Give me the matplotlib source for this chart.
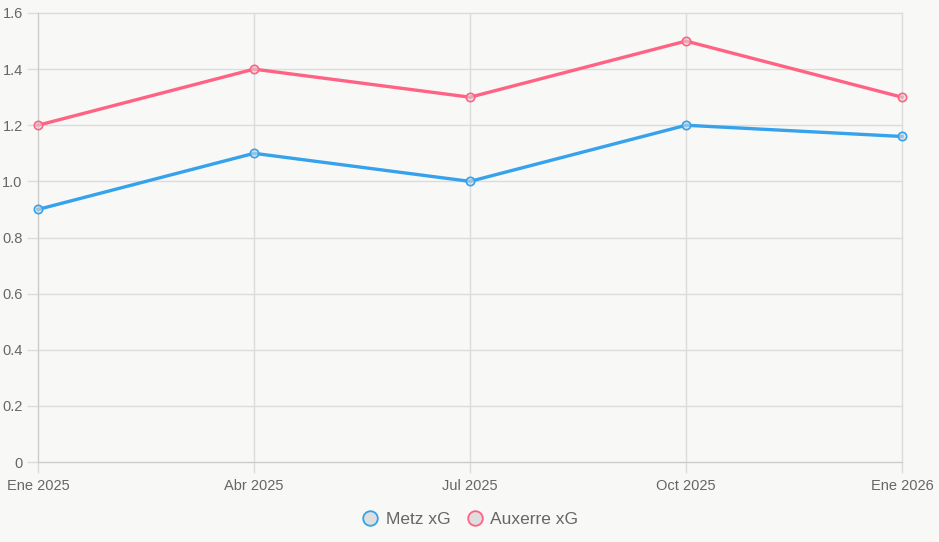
import matplotlib
matplotlib.use("Agg")
import matplotlib.pyplot as plt
from matplotlib.lines import Line2D

plt.rcParams['font.family'] = ['Liberation Sans', 'DejaVu Sans']

labels = ["Ene 2025", "Abr 2025", "Jul 2025", "Oct 2025", "Ene 2026"]
metz = [0.9, 1.1, 1.0, 1.2, 1.16]
auxerre = [1.2, 1.4, 1.3, 1.5, 1.3]
series_names = ["Metz xG", "Auxerre xG"]
colors = ["#36a2eb", "#ff6384"]
yticks = [0, 0.2, 0.4, 0.6, 0.8, 1.0, 1.2, 1.4, 1.6]
ytick_labels = ["0", "0.2", "0.4", "0.6", "0.8", "1.0", "1.2", "1.4", "1.6"]

W, H = 939, 542
fig = plt.figure(figsize=(W/100, H/100), dpi=100)
bg = "#f8f8f7"
fig.patch.set_facecolor(bg)
ax = fig.add_axes([38/W, (H-462)/H, (902-38)/W, (462-13)/H])
ax.set_facecolor(bg)

x = list(range(len(labels)))
for vals, c in zip([metz, auxerre], colors):
    ax.plot(x, vals, color=c, lw=2.4, zorder=3, solid_joinstyle='miter', clip_on=False,
            marker='o', ms=6, mfc=(0.85, 0.85, 0.85, 0.6), mec=c, mew=1.2)

ax.set_xlim(0, len(labels)-1)
ax.set_ylim(0, 1.6)
ax.set_xticks(x)
ax.set_xticklabels(labels)
ax.set_yticks(yticks)
ax.set_yticklabels(ytick_labels)
grid_c = "#dcdcdc"
ax.grid(True, color=grid_c, lw=1, zorder=0, clip_on=False)
for g in ax.get_xgridlines() + ax.get_ygridlines():
    g.set_clip_on(False)
for s in ax.spines.values():
    s.set_visible(False)
ax.spines['left'].set_visible(True)
ax.spines['bottom'].set_visible(True)
ax.spines['left'].set_color("#cccccc")
ax.spines['bottom'].set_color("#cccccc")
ax.tick_params(axis='both', colors=grid_c, length=8, width=1, labelcolor="#666666", labelsize=10.5)
ax.tick_params(axis='y', pad=3)
ax.tick_params(axis='x', pad=4)

handles = [Line2D([], [], ls='none', marker='o', ms=10.5, mfc="#dedede", mec=c, mew=1.3) for c in colors]
fig.legend(handles, series_names, loc='center', bbox_to_anchor=(469/W, 1-519/H), ncol=2,
           frameon=False, fontsize=12.5, labelcolor="#666666", handletextpad=0.3, columnspacing=0.8,
           handlelength=1.2)

fig.savefig("out.png", dpi=100, facecolor=bg)
